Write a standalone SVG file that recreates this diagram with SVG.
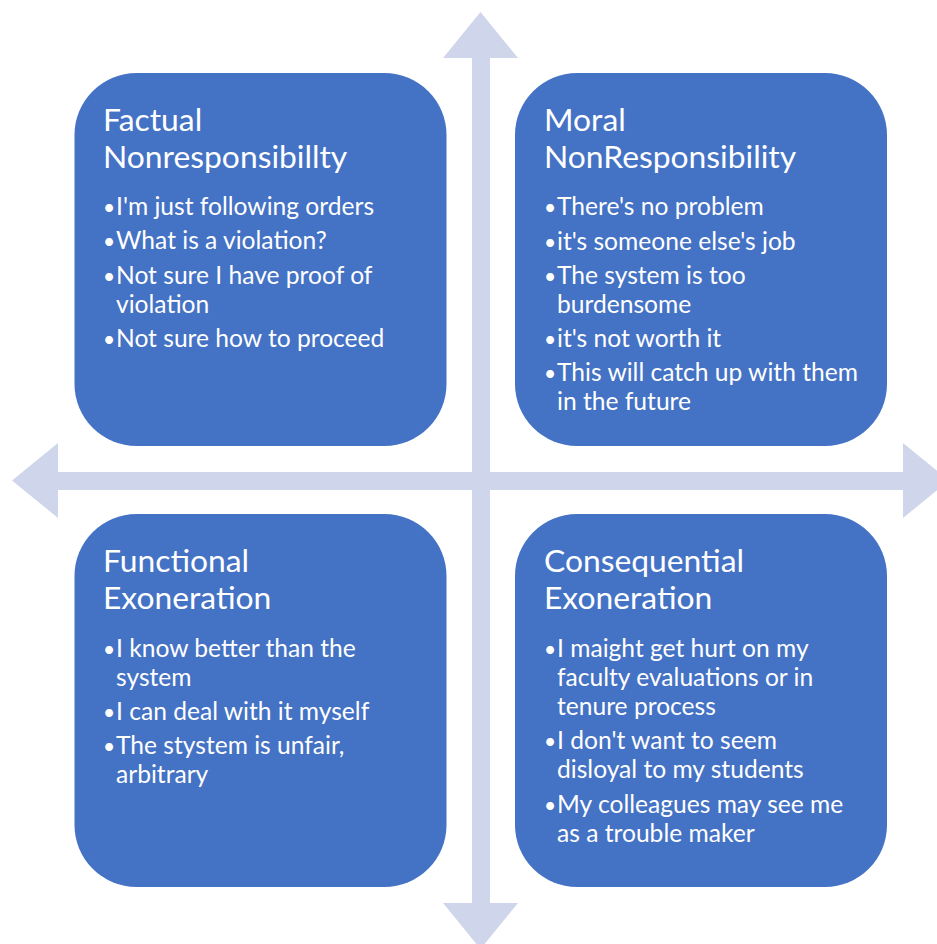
<svg xmlns="http://www.w3.org/2000/svg" width="937" height="944" viewBox="0 0 937 944">
<style>
.box{fill:#4472C4}
.arrow{fill:#CFD5EA}
text{fill:#FFFFFF;font-family:Lato,"Liberation Sans",sans-serif}
.t{font-size:31.8px}
.b{font-size:24.6px}
.d{font-size:21px}
</style>
<rect width="937" height="944" fill="#FFFFFF"/>
<g id="connectors">
<polygon class="arrow" points="12,480.5 58,443 58,472 903,472 903,443 949,480.5 903,518 903,490 58,490 58,518"/>
<polygon class="arrow" points="480.5,12 518,58 490,58 490,903 518,903 480.5,949 443,903 472,903 472,58 443,58"/>
</g>
<g id="factual">
<rect class="box" x="74.5" y="73" width="372" height="373" rx="62" ry="62"/>
<text class="t" x="103" y="130.5">Factual</text>
<text class="t" x="103" y="167.5">Nonresponsibillty</text>
<text class="d" x="103" y="214.5">•</text><text class="b" x="116" y="214.5">I'm just following orders</text>
<text class="d" x="103" y="249">•</text><text class="b" x="116" y="249">What is a violation?</text>
<text class="d" x="103" y="283.5">•</text><text class="b" x="116" y="283.5">Not sure I have proof of</text>
<text class="b" x="116" y="312.5">violation</text>
<text class="d" x="103" y="346.5">•</text><text class="b" x="116" y="346.5">Not sure how to proceed</text>
</g>
<g id="moral">
<rect class="box" x="515" y="73" width="372" height="373" rx="62" ry="62"/>
<text class="t" x="544" y="130.5">Moral</text>
<text class="t" x="544" y="167.5">NonResponsibility</text>
<text class="d" x="544" y="214.5">•</text><text class="b" x="557" y="214.5">There's no problem</text>
<text class="d" x="544" y="249.5">•</text><text class="b" x="557" y="249.5">it's someone else's job</text>
<text class="d" x="544" y="283.5">•</text><text class="b" x="557" y="283.5">The system is too</text>
<text class="b" x="557" y="312.5">burdensome</text>
<text class="d" x="544" y="346.5">•</text><text class="b" x="557" y="346.5">it's not worth it</text>
<text class="d" x="544" y="380.5">•</text><text class="b" x="557" y="380.5">This will catch up with them</text>
<text class="b" x="557" y="409.5">in the future</text>
</g>
<g id="functional">
<rect class="box" x="74.5" y="514" width="372" height="373" rx="62" ry="62"/>
<text class="t" x="103" y="571.5">Functional</text>
<text class="t" x="103" y="608.5">Exoneration</text>
<text class="d" x="103" y="656.5">•</text><text class="b" x="116" y="656.5">I know better than the</text>
<text class="b" x="116" y="685.5">system</text>
<text class="d" x="103" y="719.5">•</text><text class="b" x="116" y="719.5">I can deal with it myself</text>
<text class="d" x="103" y="753.5">•</text><text class="b" x="116" y="753.5">The stystem is unfair,</text>
<text class="b" x="116" y="782.5">arbitrary</text>
</g>
<g id="consequential">
<rect class="box" x="515" y="514" width="372" height="373" rx="62" ry="62"/>
<text class="t" x="544" y="571.5">Consequential</text>
<text class="t" x="544" y="608.5">Exoneration</text>
<text class="d" x="544" y="656.5">•</text><text class="b" x="557" y="656.5">I maight get hurt on my</text>
<text class="b" x="557" y="685.5">faculty evaluations or in</text>
<text class="b" x="557" y="714.5">tenure process</text>
<text class="d" x="544" y="748.5">•</text><text class="b" x="557" y="748.5">I don't want to seem</text>
<text class="b" x="557" y="777.5">disloyal to my students</text>
<text class="d" x="544" y="812.5">•</text><text class="b" x="557" y="812.5">My colleagues may see me</text>
<text class="b" x="557" y="841.5">as a trouble maker</text>
</g>
</svg>
